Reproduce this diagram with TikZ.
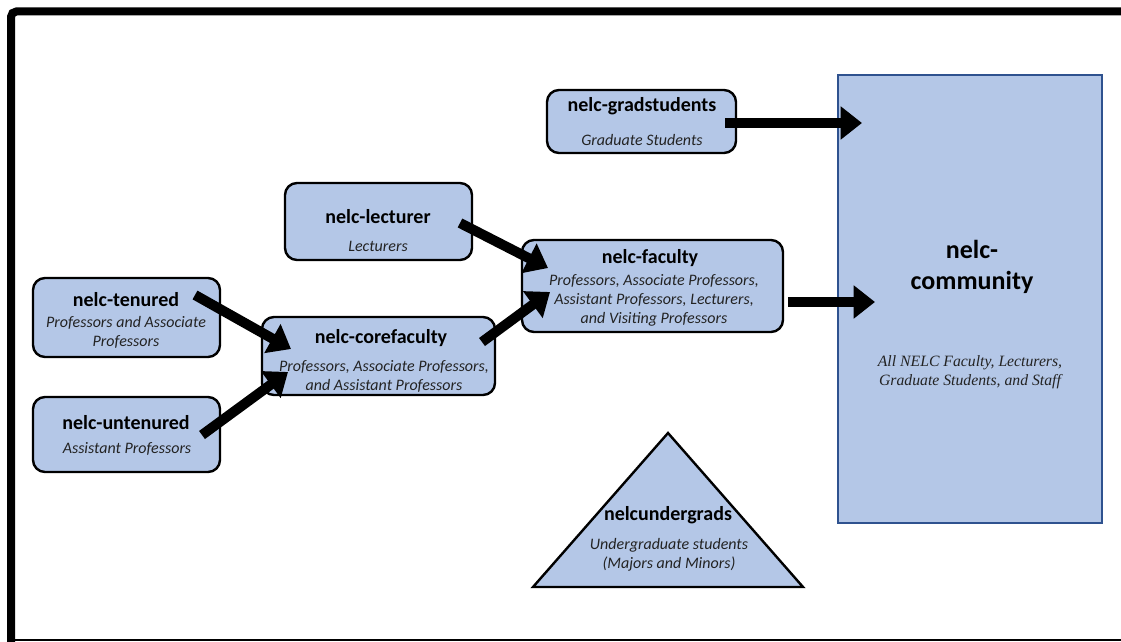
\documentclass[tikz,border=0pt]{standalone}
\usepackage{fontspec}
\setmainfont{Carlito}
\newfontfamily\timesfont{Liberation Serif}
\usetikzlibrary{arrows.meta}
\definecolor{boxfill}{RGB}{180,199,231}
\definecolor{commedge}{RGB}{47,82,143}
\definecolor{desctext}{RGB}{35,35,35}
\begin{document}
\begin{tikzpicture}[x=0.75pt,y=-0.75pt,
  box/.style={draw=black, line width=1.8pt, fill=boxfill, rounded corners=9pt, inner sep=0pt},
  titletext/.style={font=\fontsize{15}{18}\selectfont\bfseries, inner sep=0pt},
  desctextstyle/.style={font=\fontsize{12}{14.3}\selectfont\itshape, text=desctext, align=center, inner sep=0pt},
  bigarrow/.style={line width=7.5pt, draw=black, -{Triangle[length=16pt,width=24pt]}}]
\useasboundingbox (0,0) rectangle (1121,642);
\fill[white] (0,0) rectangle (1121,642);

% frame
\draw[line width=6pt, rounded corners=4pt] (11,642) -- (11,11.5) -- (1121,11.5);
\draw[line width=1pt] (11,640) -- (1121,640);

% community
\node[draw=commedge, line width=2pt, fill=boxfill, minimum width={264*0.75pt}, minimum height={448*0.75pt}, inner sep=0pt] (community) at (970,299) {};

% boxes
\node[box, minimum width={187*0.75pt}, minimum height={79*0.75pt}] (tenured) at (126.5,317.5) {};
\node[box, minimum width={187*0.75pt}, minimum height={75*0.75pt}] (untenured) at (126.5,434.5) {};
\node[box, minimum width={233*0.75pt}, minimum height={78*0.75pt}] (core) at (378.5,356) {};
\node[box, minimum width={187*0.75pt}, minimum height={77*0.75pt}] (lecturer) at (378.5,221.5) {};
\node[box, minimum width={261*0.75pt}, minimum height={92*0.75pt}] (faculty) at (652.5,286) {};
\node[box, minimum width={189*0.75pt}, minimum height={63*0.75pt}] (grad) at (641.5,121.5) {};

% triangle
\coordinate (triTop) at (668,433);
\coordinate (triRight) at (803,587);
\coordinate (triLeft) at (533,587);
\draw[line width=1.8pt, fill=boxfill, line join=miter] (triTop) -- (triRight) -- (triLeft) -- cycle;

% arrow end points
\coordinate (tenOut) at (195,295);
\coordinate (coreInA) at (291,349);
\coordinate (untOut) at (202,435);
\coordinate (coreInB) at (288,372);
\coordinate (coreOut) at (482,342);
\coordinate (facInB) at (550,292);
\coordinate (lecOut) at (460,223);
\coordinate (facInA) at (548,268);
\coordinate (facOut) at (788,302);
\coordinate (comInB) at (875,302);
\coordinate (gradOut) at (725,123);
\coordinate (comInA) at (862,123);

\draw[bigarrow] (tenOut) -- (coreInA);
\draw[bigarrow] (untOut) -- (coreInB);
\draw[bigarrow] (coreOut) -- (facInB);
\draw[bigarrow] (lecOut) -- (facInA);
\draw[bigarrow] (facOut) -- (comInB);
\draw[bigarrow] (gradOut) -- (comInA);

% texts
\node[titletext] (tenT) at (126,300) {nelc-tenured};
\node[desctextstyle] (tenD) at (126,332) {Professors and Associate\\Professors};
\node[titletext] (untT) at (126,423) {nelc-untenured};
\node[desctextstyle] (untD) at (127,449) {Assistant Professors};
\node[titletext] (coreT) at (381,338) {nelc-corefaculty};
\node[desctextstyle] (coreD) at (384,376.5) {Professors, Associate Professors,\\and Assistant Professors};
\node[titletext] (lecT) at (378,217) {nelc-lecturer};
\node[desctextstyle] (lecD) at (378,246) {Lecturers};
\node[titletext] (facT) at (650,258) {nelc-faculty};
\node[desctextstyle] (facD) at (654,300) {Professors, Associate Professors,\\Assistant Professors, Lecturers,\\and Visiting Professors};
\node[titletext] (gradT) at (642,106) {nelc-gradstudents};
\node[desctextstyle] (gradD) at (642,140) {Graduate Students};
\node[titletext] (ugT) at (668,515) {nelcundergrads};
\node[desctextstyle] (ugD) at (669,555) {Undergraduate students\\(Majors and Minors)};
\node[font=\fontsize{19.5}{23.5}\selectfont\bfseries, align=center, inner sep=0pt] (comT) at (972,267) {nelc-\\community};
\node[font=\timesfont\fontsize{11.8}{14.5}\selectfont\itshape, text=desctext, align=center, inner sep=0pt] (comD) at (970,372) {All NELC Faculty, Lecturers,\\Graduate Students, and Staff};
\end{tikzpicture}
\end{document}
